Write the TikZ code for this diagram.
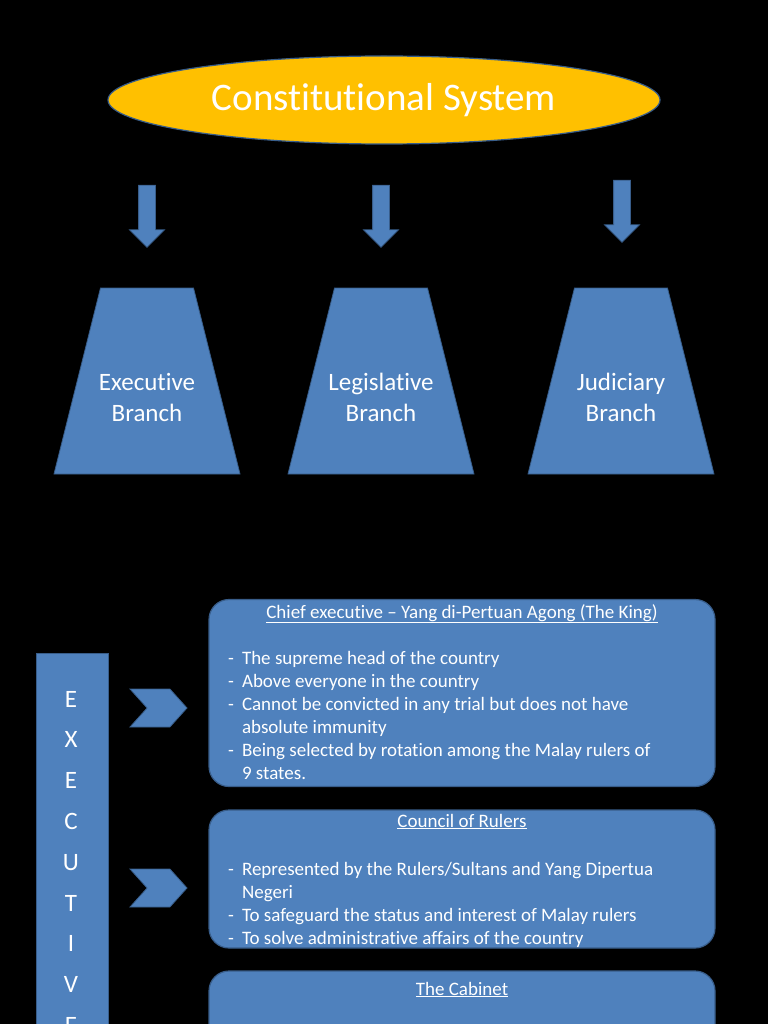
\documentclass[tikz,border=0pt]{standalone}
\usepackage{fontspec}
\setmainfont{Carlito}[Ligatures=NoCommon]
\usetikzlibrary{shapes.geometric,shapes.arrows,shapes.symbols,positioning,calc}

\definecolor{boxblue}{HTML}{4F81BD}
\definecolor{edgeblue}{HTML}{385D8A}
\definecolor{sysgold}{HTML}{FFC000}

\tikzset{
  sysoval/.style={ellipse, fill=sysgold, draw=edgeblue, line width=1.2pt,
    minimum width=552pt, minimum height=88pt, text=white,
    font=\fontsize{39}{46}\selectfont},
  downarrow/.style={single arrow, shape border rotate=270, fill=boxblue,
    draw=edgeblue, line width=0.8pt, inner sep=8pt,
    single arrow head extend=9pt, minimum height=62pt},
  branchshape/.style={fill=boxblue, draw=edgeblue, line width=0.8pt},
  branchtext/.style={text=white, align=center,
    font=\fontsize{25}{31}\selectfont},
  sidebar/.style={rectangle, fill=boxblue, draw=edgeblue, line width=0.8pt,
    minimum width=72pt, minimum height=494pt},
  sideletter/.style={text=white, inner sep=0pt, anchor=base,
    font=\fontsize{25}{30}\selectfont},
  chevron/.style={signal, signal from=west, signal to=east,
    signal pointer angle=96, minimum width=57pt, minimum height=38pt,
    inner sep=0pt, fill=boxblue, draw=edgeblue, line width=0.8pt},
  infobox/.style={rectangle, rounded corners=20pt, fill=boxblue,
    draw=edgeblue, line width=1.2pt, minimum width=506pt},
  boxtitle/.style={text=white, anchor=base, inner sep=0pt,
    font=\fontsize{19}{23}\selectfont},
  boxlist/.style={text=white, anchor=base west, inner sep=0pt,
    font=\fontsize{19}{23}\selectfont}
}

\begin{document}
\begin{tikzpicture}[x=1pt,y=-1pt]
  \useasboundingbox (0,0) rectangle (768,1024);
  \clip (0,0) rectangle (768,1024);
  \fill[black] (0,0) rectangle (768,1024);

  % top of the chart
  \node[sysoval] (system) at (384,100) {Constitutional System};

  \node[downarrow] (arrowexec) at (147,212) {};
  \node[downarrow] (arrowleg) at (381,212) {};
  \node[downarrow] (arrowjud) at (622,207) {};

  % the three branches
  \foreach \name/\cx in {exec/147,leg/381,jud/621} {
    \draw[branchshape] (\cx-46.5,288) -- (\cx+46.5,288)
      -- (\cx+93,474) -- (\cx-93,474) -- cycle;
    \coordinate (\name) at (\cx,381);
  }
  \node[branchtext] (exectext) at ([yshift=-16pt]exec) {Executive\\Branch};
  \node[branchtext] (legtext) at ([yshift=-16pt]leg) {Legislative\\Branch};
  \node[branchtext] (judtext) at ([yshift=-16pt]jud) {Judiciary\\Branch};

  % executive side bar
  \node[sidebar] (execbar) at (72,900) {};
  \foreach \ch [count=\i] in {E,X,E,C,U,T,I,V,E} {
    \node[sideletter] (letter\i) at (71,{707+40.8*(\i-1)}) {\ch};
  }

  \node[chevron] (pointking) at (158.5,708) {};
  \node[chevron] (pointrulers) at (158.5,888) {};

  % the king
  \node[infobox, minimum height=187pt] (king) at (462,693) {};
  \node[boxtitle] (kingtitle) at (462,618)
    {\underline{Chief executive – Yang di-Pertuan Agong (The King)}};
  \node[boxlist] (kinglist) at (228,664) {%
    \begin{tabular}[t]{@{}l@{\hspace{8pt}}l@{}}
      - & The supreme head of the country\\
      - & Above everyone in the country\\
      - & Cannot be convicted in any trial but does not have\\
        & absolute immunity\\
      - & Being selected by rotation among the Malay rulers of\\
        & 9 states.
    \end{tabular}};

  % council of rulers
  \node[infobox, minimum height=138pt] (rulers) at (462,879) {};
  \node[boxtitle] (rulerstitle) at (462,827) {\underline{Council of Rulers}};
  \node[boxlist] (rulerslist) at (228,875) {%
    \begin{tabular}[t]{@{}l@{\hspace{8pt}}l@{}}
      - & Represented by the Rulers/Sultans and Yang Dipertua\\
        & Negeri\\
      - & To safeguard the status and interest of Malay rulers\\
      - & To solve administrative affairs of the country
    \end{tabular}};

  % cabinet
  \node[infobox, minimum height=200pt] (cabinet) at (462,1071) {};
  \node[boxtitle] (cabinettitle) at (462,995) {\underline{The Cabinet}};
\end{tikzpicture}
\end{document}
